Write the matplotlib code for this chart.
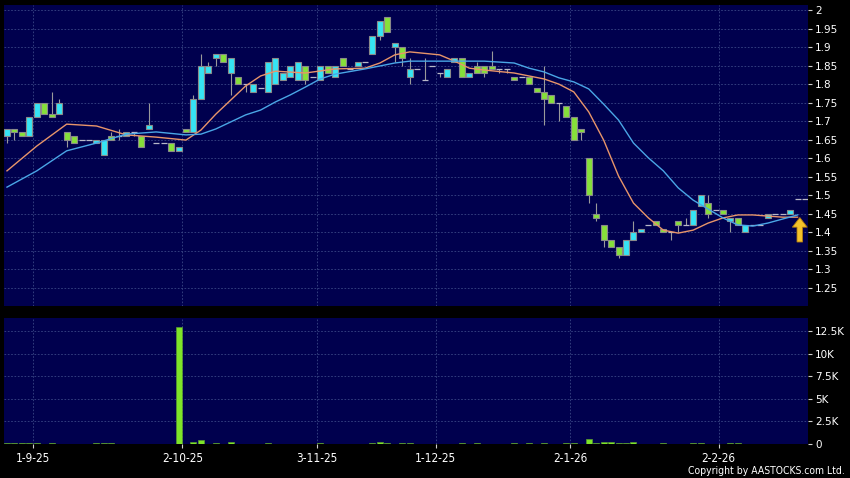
import matplotlib
matplotlib.use("Agg")
import matplotlib.pyplot as plt
import numpy as np
from matplotlib.patches import FancyArrow

# daily OHLC, one entry per trading day shown on the chart
opens = [1.66, 1.68, 1.67, 1.66, 1.71, 1.75, 1.72, 1.72, 1.67, 1.66,
         1.65, 1.65, 1.64, 1.61, 1.66, 1.66, 1.66, 1.67, 1.66, 1.68,
         1.64, 1.64, 1.64, 1.62, 1.68, 1.67, 1.76, 1.83, 1.87, 1.88,
         1.83, 1.82, 1.80, 1.78, 1.79, 1.78, 1.80, 1.81, 1.82, 1.81,
         1.85, 1.82, 1.81, 1.85, 1.82, 1.87, 1.84, 1.85, 1.86, 1.88,
         1.93, 1.98, 1.90, 1.90, 1.82, 1.84, 1.81, 1.85, 1.83, 1.82,
         1.86, 1.87, 1.82, 1.85, 1.85, 1.85, 1.84, 1.84, 1.82, 1.82,
         1.82, 1.79, 1.78, 1.77, 1.75, 1.74, 1.71, 1.68, 1.60, 1.45,
         1.42, 1.38, 1.36, 1.34, 1.38, 1.40, 1.42, 1.43, 1.41, 1.40,
         1.43, 1.42, 1.42, 1.47, 1.48, 1.46, 1.46, 1.43, 1.44, 1.40,
         1.42, 1.42, 1.44, 1.45, 1.45, 1.45, 1.49, 1.49]
highs = [1.68, 1.68, 1.67, 1.71, 1.75, 1.75, 1.78, 1.76, 1.67, 1.66,
         1.65, 1.65, 1.65, 1.65, 1.67, 1.68, 1.67, 1.67, 1.66, 1.75,
         1.64, 1.64, 1.64, 1.63, 1.68, 1.77, 1.88, 1.86, 1.88, 1.88,
         1.87, 1.82, 1.80, 1.80, 1.79, 1.86, 1.87, 1.83, 1.85, 1.86,
         1.85, 1.82, 1.85, 1.85, 1.85, 1.87, 1.84, 1.86, 1.86, 1.93,
         1.97, 1.98, 1.91, 1.90, 1.87, 1.84, 1.87, 1.85, 1.83, 1.84,
         1.87, 1.87, 1.83, 1.86, 1.85, 1.89, 1.84, 1.84, 1.82, 1.82,
         1.82, 1.79, 1.85, 1.77, 1.75, 1.74, 1.71, 1.68, 1.60, 1.48,
         1.42, 1.38, 1.36, 1.38, 1.43, 1.41, 1.42, 1.43, 1.41, 1.40,
         1.43, 1.44, 1.46, 1.50, 1.50, 1.46, 1.46, 1.44, 1.44, 1.42,
         1.42, 1.42, 1.45, 1.45, 1.45, 1.46, 1.49, 1.49]
lows = [1.64, 1.65, 1.66, 1.66, 1.71, 1.72, 1.71, 1.72, 1.63, 1.64,
        1.65, 1.65, 1.64, 1.61, 1.65, 1.65, 1.66, 1.66, 1.63, 1.68,
        1.64, 1.64, 1.62, 1.62, 1.67, 1.67, 1.76, 1.83, 1.85, 1.86,
        1.77, 1.80, 1.78, 1.78, 1.79, 1.78, 1.80, 1.81, 1.82, 1.81,
        1.80, 1.82, 1.81, 1.83, 1.82, 1.85, 1.84, 1.85, 1.86, 1.88,
        1.92, 1.94, 1.86, 1.85, 1.80, 1.84, 1.81, 1.85, 1.82, 1.82,
        1.86, 1.82, 1.82, 1.83, 1.82, 1.84, 1.83, 1.83, 1.81, 1.82,
        1.80, 1.78, 1.69, 1.75, 1.70, 1.71, 1.65, 1.65, 1.48, 1.43,
        1.36, 1.36, 1.33, 1.34, 1.38, 1.40, 1.42, 1.42, 1.40, 1.38,
        1.40, 1.42, 1.42, 1.47, 1.44, 1.46, 1.45, 1.40, 1.42, 1.40,
        1.42, 1.42, 1.44, 1.45, 1.45, 1.45, 1.49, 1.49]
closes = [1.68, 1.67, 1.66, 1.71, 1.75, 1.72, 1.71, 1.75, 1.65, 1.64,
          1.65, 1.65, 1.65, 1.65, 1.65, 1.66, 1.67, 1.67, 1.63, 1.69,
          1.64, 1.64, 1.62, 1.63, 1.67, 1.76, 1.85, 1.85, 1.88, 1.86,
          1.87, 1.80, 1.80, 1.80, 1.79, 1.86, 1.87, 1.83, 1.85, 1.86,
          1.81, 1.82, 1.85, 1.83, 1.85, 1.85, 1.84, 1.86, 1.86, 1.93,
          1.97, 1.94, 1.91, 1.87, 1.84, 1.84, 1.81, 1.85, 1.83, 1.84,
          1.87, 1.82, 1.83, 1.83, 1.83, 1.84, 1.84, 1.84, 1.81, 1.82,
          1.80, 1.78, 1.76, 1.75, 1.75, 1.71, 1.65, 1.67, 1.50, 1.44,
          1.38, 1.36, 1.34, 1.38, 1.40, 1.41, 1.42, 1.42, 1.40, 1.40,
          1.42, 1.42, 1.46, 1.50, 1.45, 1.46, 1.45, 1.44, 1.42, 1.42,
          1.42, 1.42, 1.45, 1.45, 1.45, 1.46, 1.49, 1.49]
volumes = [150, 60, 110, 150, 150, 50, 110, 40, 40, 30,
           20, 20, 150, 60, 110, 30, 30, 20, 40, 30,
           20, 20, 40, 13000, 40, 220, 450, 40, 150, 40,
           260, 40, 20, 40, 20, 110, 40, 30, 40, 30,
           40, 20, 110, 30, 30, 40, 20, 30, 20, 150,
           260, 150, 40, 150, 60, 20, 20, 20, 20, 40,
           30, 60, 30, 70, 40, 30, 20, 20, 110, 30,
           110, 40, 150, 40, 30, 110, 150, 40, 520, 60,
           220, 260, 150, 60, 260, 40, 20, 30, 110, 30,
           40, 20, 70, 110, 40, 20, 30, 110, 110, 40,
           20, 20, 40, 20, 20, 40, 20, 20]

# moving averages (day index, price)
ma_short_day = [0, 4, 8, 12, 16, 20, 24, 26, 28, 30, 32, 34, 36, 40, 44, 48, 50, 52, 54, 58,
                60, 62, 64, 68, 72, 74, 76, 78, 80, 82, 84, 86, 88, 90, 92, 94, 96, 98, 100,
                102, 104, 106]
ma_short = [1.566, 1.633, 1.692, 1.687, 1.663, 1.657, 1.649, 1.676, 1.719, 1.757, 1.795,
            1.822, 1.835, 1.830, 1.841, 1.843, 1.857, 1.879, 1.887, 1.879, 1.862, 1.843,
            1.838, 1.830, 1.814, 1.800, 1.779, 1.725, 1.649, 1.552, 1.479, 1.439, 1.406,
            1.398, 1.406, 1.425, 1.439, 1.447, 1.447, 1.444, 1.441, 1.441]
ma_long_day = [0, 4, 8, 12, 16, 20, 24, 26, 28, 30, 32, 34, 36, 38, 40, 42, 44, 48, 50, 52,
               54, 60, 64, 68, 70, 72, 74, 76, 78, 80, 82, 84, 86, 88, 90, 92, 94, 96, 98,
               100, 102, 104, 106]
ma_long = [1.522, 1.566, 1.620, 1.641, 1.665, 1.671, 1.663, 1.665, 1.679, 1.698, 1.717,
           1.730, 1.752, 1.771, 1.792, 1.814, 1.827, 1.841, 1.849, 1.857, 1.862, 1.862,
           1.862, 1.857, 1.843, 1.833, 1.817, 1.806, 1.787, 1.746, 1.703, 1.641, 1.601,
           1.566, 1.520, 1.487, 1.463, 1.439, 1.420, 1.417, 1.425, 1.436, 1.447]

month_pos = [3.5, 23.5, 41.5, 57.5, 75.5, 95.4]
month_labels = ["1-9-25", "2-10-25", "3-11-25", "1-12-25", "2-1-26", "2-2-26"]
price_ticks = np.arange(1.25, 2.001, 0.05)
vol_ticks = [0, 2500, 5000, 7500, 10000, 12500]
vol_labels = ["0", "2.5K", "5K", "7.5K", "10K", "12.5K"]

panel = "#00004e"
grid_c = "#3a4786"
up_c = "#36e4f4"
down_c = "#86e03a"
edge_c = "#8a8a8a"

o = np.array(opens)
c = np.array(closes)
h = np.array(highs)
l = np.array(lows)
x = np.arange(len(o))

fig = plt.figure(figsize=(8.5, 4.78), dpi=100, facecolor="black")
ax = fig.add_axes([4 / 850, 1 - 306 / 478, 804 / 850, 301 / 478])
axv = fig.add_axes([4 / 850, 1 - 444 / 478, 804 / 850, 126 / 478], sharex=ax)

for a in (ax, axv):
    a.set_facecolor(panel)
    for s in a.spines.values():
        s.set_visible(False)
    a.grid(True, color=grid_c, linestyle=(0, (2, 2)), linewidth=0.6)
    a.set_axisbelow(True)
    a.yaxis.tick_right()
    a.tick_params(axis="y", colors="#d0d0d0", labelcolor="white", length=3, width=0.8,
                  labelsize=7.5, pad=2)

# candles
up = c > o
down = c < o
flat = c == o
ax.vlines(x, l, h, color="#9a9a9a", linewidth=0.8, zorder=2)
ax.bar(x[up], (c - o)[up], bottom=o[up], width=0.8, color=up_c, edgecolor=edge_c,
       linewidth=0.8, zorder=3)
ax.bar(x[down], (o - c)[down], bottom=c[down], width=0.8, color=down_c, edgecolor=edge_c,
       linewidth=0.8, zorder=3)
ax.hlines(c[flat], x[flat] - 0.4, x[flat] + 0.4, color="#b8b8c8", linewidth=0.9, zorder=3)

ax.plot(ma_short_day, ma_short, color="#e8956a", linewidth=1.0, zorder=4)
ax.plot(ma_long_day, ma_long, color="#4aa6e6", linewidth=1.0, zorder=4)

ax.add_patch(FancyArrow(106.3, 1.374, 0, 0.04, width=0.75, head_width=2.0,
                        head_length=0.026, length_includes_head=False,
                        facecolor="#f4c22a", edgecolor="#b07a10", linewidth=0.6, zorder=5))

ax.set_xlim(-0.4, 107.4)
ax.set_ylim(1.2013, 2.0135)
ax.set_yticks(price_ticks)
ax.set_yticklabels([f"{v:.2f}".rstrip("0").rstrip(".") for v in price_ticks])
ax.set_xticks(month_pos)
ax.tick_params(axis="x", length=0, labelbottom=False)

# volume
axv.bar(x, volumes, width=0.8, color="#7ee428", edgecolor="#5a9a30", linewidth=0.5, zorder=3)
axv.set_ylim(0, 13950)
axv.set_yticks(vol_ticks)
axv.set_yticklabels(vol_labels)
axv.set_xticks(month_pos)
axv.set_xticklabels(month_labels, family="DejaVu Sans", stretch="condensed",
                    fontsize=8.5, color="white")
axv.tick_params(axis="x", colors="#d0d0d0", labelcolor="white", length=3, width=0.8, pad=3)

fig.text(845 / 850, 1 - 471 / 478, "Copyright by AASTOCKS.com Ltd.", ha="right", va="center",
         color="white", fontsize=7.5, family="DejaVu Sans", stretch="condensed")

fig.savefig("out.png", dpi=100, facecolor="black")
